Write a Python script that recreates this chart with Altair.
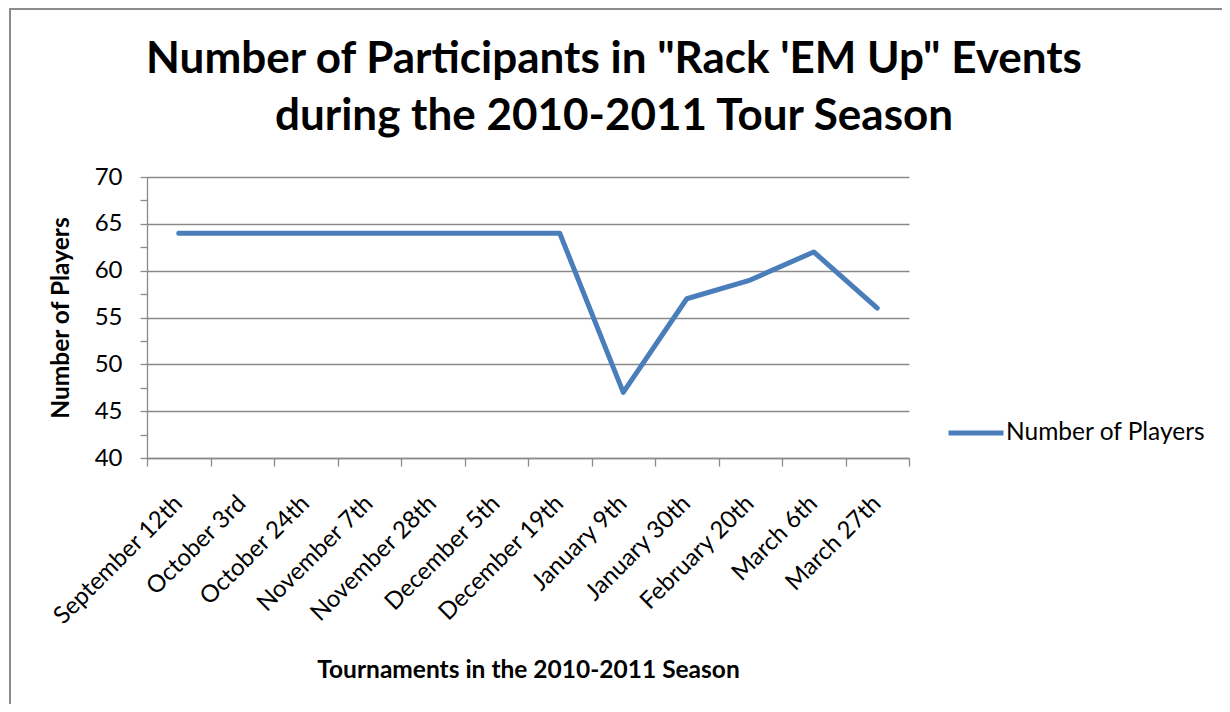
import altair as alt
import pandas as pd

tournaments = [
    "September 12th", "October 3rd", "October 24th", "November 7th",
    "November 28th", "December 5th", "December 19th", "January 9th",
    "January 30th", "February 20th", "March 6th", "March 27th",
]
players = [64, 64, 64, 64, 64, 64, 64, 47, 57, 59, 62, 56]
series_name = "Number of Players"
y_ticks = [40, 42.5, 45, 47.5, 50, 52.5, 55, 57.5, 60, 62.5, 65, 67.5, 70]

title_lines = [
    "Number of Participants in \"Rack 'EM Up\" Events",
    "during the 2010-2011 Tour Season",
]
x_title = "Tournaments in the 2010-2011 Season"
y_title = "Number of Players"

df = pd.DataFrame({
    "Tournament": tournaments,
    "Players": players,
    "Series": [series_name] * len(tournaments),
})

FONT = "Lato"
GRID = "#8a8a8a"
BLUE = "#4a7ebb"

border = alt.Chart(pd.DataFrame({"k": [0]})).mark_rect(
    fillOpacity=0, stroke="#8c8c8c", strokeWidth=2
).encode(
    x=alt.value(-137), x2=alt.value(1300),
    y=alt.value(-168), y2=alt.value(800),
)

line = alt.Chart(df).mark_line(
    strokeWidth=5, strokeCap="round", strokeJoin="round"
).encode(
    x=alt.X(
        "Tournament:N", sort=tournaments, bandPosition=0.5,
        scale=alt.Scale(type="band", paddingInner=0, paddingOuter=0),
        axis=alt.Axis(
            title=x_title, tickBand="extent", grid=False,
            labelAngle=-45, labelAlign="right", labelBaseline="top",
            labelPadding=25, labelOffset=-9, tickSize=8,
            titleY=219, titleBaseline="alphabetic",
        ),
    ),
    y=alt.Y(
        "Players:Q",
        scale=alt.Scale(domain=[40, 70], nice=False, zero=False),
        axis=alt.Axis(
            title=y_title, values=y_ticks,
            labelExpr="datum.value % 5 === 0 ? datum.label : ''",
            gridOpacity={"condition": {"test": "datum.value % 5 === 0", "value": 1}, "value": 0},
            labelOverlap=False, labelFlush=False,
            tickSize=7, labelPadding=18, labelBaseline="middle",
            titleAngle=270, titleX=-79, titleY=140.5,
            titleBaseline="alphabetic", titleAlign="center",
        ),
    ),
    color=alt.Color(
        "Series:N", scale=alt.Scale(range=[BLUE]),
        legend=alt.Legend(
            title=None, orient="none", legendX=799, legendY=226,
            symbolType="stroke", symbolSize=3025, symbolStrokeWidth=5,
            labelFont=FONT, labelFontSize=24.5, labelColor="black",
            labelOffset=0, labelLimit=400,
        ),
    ),
)

chart = alt.layer(border, line).properties(
    width=762, height=281,
    autosize=alt.AutoSizeParams(type="none"),
    padding={"left": 139, "top": 169, "right": 313, "bottom": 246},
    title=alt.Title(
        text=title_lines, font=FONT, fontSize=44, fontWeight="bold",
        color="black", anchor="middle", dx=86, offset=-166,
        baseline="alphabetic", lineHeight=57,
    ),
).configure_view(stroke="transparent").configure_axis(
    domainColor=GRID, tickColor=GRID, gridColor=GRID,
    domainWidth=1.3, tickWidth=1.3, gridWidth=1.3,
    labelFont=FONT, labelFontSize=24, labelColor="black",
    titleFont=FONT, titleFontSize=24.5, titleFontWeight="bold", titleColor="black",
)

chart.save("out.html", embed_options={"renderer": "svg", "actions": False})
